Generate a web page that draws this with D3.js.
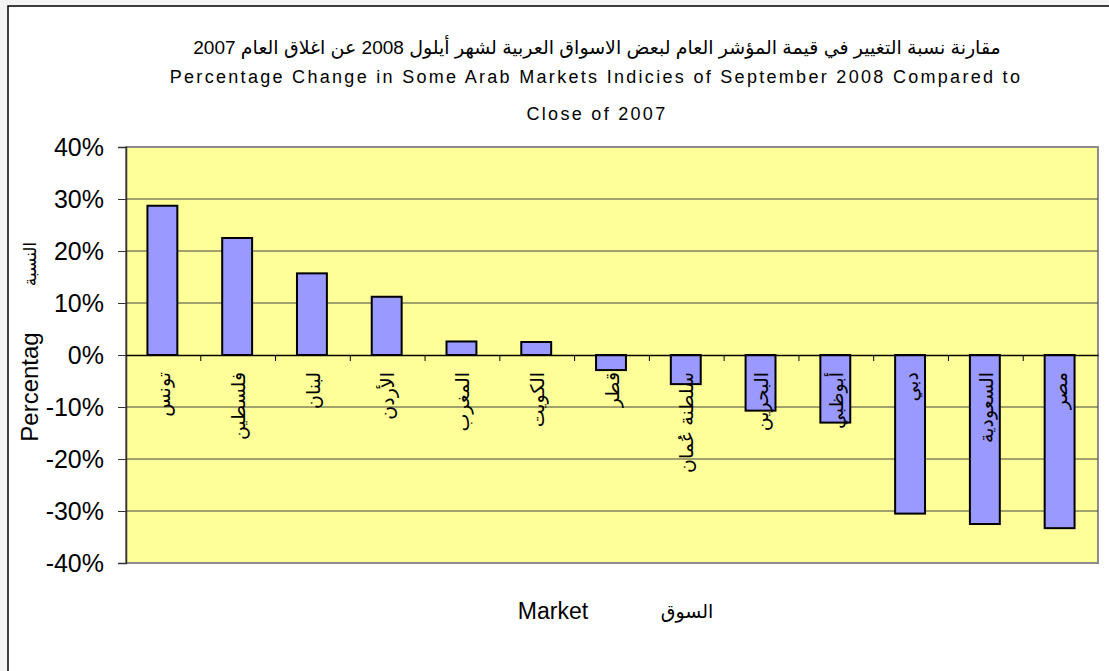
<!DOCTYPE html>
<html>
<head>
<meta charset="utf-8">
<script src="https://cdn.jsdelivr.net/npm/d3@7/dist/d3.min.js"></script>
<style>
  html, body { margin: 0; padding: 0; background: #f4f4f4; }
  svg { display: block; }
  text { font-family: Arial, "Liberation Sans", "DejaVu Sans", sans-serif; fill: #000; }
</style>
</head>
<body>
<div id="chart"></div>
<script>
// Percentage change of Arab market indices, Sept 2008 vs close of 2007
const markets = ['تونس', 'فلسطين', 'لبنان', 'الأردن', 'المغرب', 'الكويت', 'قطر',
    'سلطنة عُمان', 'البحرين', 'أبوظبي', 'دبي', 'السعودية', 'مصر'];
const changes = [0.287, 0.225, 0.157, 0.112, 0.026, 0.025, -0.029,
    -0.056, -0.107, -0.130, -0.305, -0.325, -0.333];
const yTicks = [-0.4, -0.3, -0.2, -0.1, 0, 0.1, 0.2, 0.3, 0.4];
const titleLines = [
    'مقارنة نسبة التغيير في قيمة المؤشر العام لبعض الاسواق العربية لشهر أيلول 2008 عن اغلاق العام 2007',
    'Percentage  Change in Some Arab Markets Indicies of September 2008 Compared to',
    'Close of 2007'
];

const width = 1109, height = 671;
const plot = { left: 126, right: 1098, top: 147, bottom: 563 };

const svg = d3.select('#chart')
    .append('svg')
    .attr('width', width)
    .attr('height', height);

// chart area (white box)
svg.append('rect')
    .attr('x', 8).attr('y', 6)
    .attr('width', width).attr('height', height)
    .attr('fill', '#fff')
    .attr('stroke', '#000')
    .attr('stroke-width', 1.5);

const x = d3.scaleBand()
    .domain(markets)
    .range([plot.left, plot.right])
    .padding(0);

const y = d3.scaleLinear()
    .domain([-0.4, 0.4])
    .range([plot.bottom, plot.top]);

// plot background
svg.append('rect')
    .attr('x', plot.left).attr('y', plot.top)
    .attr('width', plot.right - plot.left)
    .attr('height', plot.bottom - plot.top)
    .attr('fill', '#ffff99')
    .attr('stroke', '#8c8c8c')
    .attr('stroke-width', 2);

// gridlines
svg.append('g')
    .selectAll('line')
    .data(yTicks.filter(d => d > -0.4 && d < 0.4 && d !== 0))
    .join('line')
    .attr('x1', plot.left).attr('x2', plot.right)
    .attr('y1', d => y(d)).attr('y2', d => y(d))
    .attr('stroke', '#444')
    .attr('stroke-width', 1);

// y axis (plain hyphen for negatives, like the original)
const pct = d3.format('.0%');
const yAxis = d3.axisLeft(y)
    .tickValues(yTicks)
    .tickFormat(d => pct(d).replace('\u2212', '-'))
    .tickSize(8)
    .tickPadding(14);

const yg = svg.append('g')
    .attr('transform', `translate(${plot.left},0)`)
    .call(yAxis);
yg.select('.domain').attr('stroke', '#333').attr('stroke-width', 1.5);
yg.selectAll('.tick line').attr('stroke', '#333');
yg.selectAll('.tick text')
    .attr('font-size', 25)
    .attr('font-family', 'Arial, "Liberation Sans", sans-serif')
    .attr('fill', '#000');

// bars
const barW = x.bandwidth() * 0.4;
svg.append('g')
    .selectAll('rect')
    .data(markets.map((m, i) => ({ m, v: changes[i] })))
    .join('rect')
    .attr('x', d => x(d.m) + x.bandwidth() / 2 - barW / 2 - 1)
    .attr('y', d => y(Math.max(0, d.v)))
    .attr('width', barW)
    .attr('height', d => Math.abs(y(d.v) - y(0)))
    .attr('fill', '#9999ff')
    .attr('stroke', '#000')
    .attr('stroke-width', 2);

// zero line with category ticks
const xAxis = d3.axisBottom(x)
    .tickValues([])
    .tickSizeOuter(0);
svg.append('g')
    .attr('transform', `translate(0,${y(0)})`)
    .call(xAxis)
    .select('.domain')
    .attr('stroke', '#000')
    .attr('stroke-width', 1.5);

svg.append('g')
    .selectAll('line')
    .data(markets.slice(1))
    .join('line')
    .attr('x1', d => x(d)).attr('x2', d => x(d))
    .attr('y1', y(0)).attr('y2', y(0) + 6)
    .attr('stroke', '#000');

// category labels, rotated
svg.append('g')
    .selectAll('text')
    .data(markets)
    .join('text')
    .attr('transform', d => `translate(${x(d) + x.bandwidth() / 2},${y(0) + 17}) rotate(-90)`)
    .attr('text-anchor', 'end')
    .attr('dy', '0.35em')
    .attr('font-size', 19)
    .attr('font-family', '"DejaVu Sans", sans-serif')
    .text(d => d);

// title
svg.append('text')
    .attr('x', 597).attr('y', 54)
    .attr('text-anchor', 'middle')
    .attr('font-size', 19)
    .attr('font-family', '"DejaVu Sans", sans-serif')
    .text(titleLines[0]);
svg.append('text')
    .attr('x', 596).attr('y', 83)
    .attr('text-anchor', 'middle')
    .attr('font-size', 18)
    .attr('letter-spacing', 2.3)
    .text(titleLines[1]);
svg.append('text')
    .attr('x', 597).attr('y', 120)
    .attr('text-anchor', 'middle')
    .attr('font-size', 18)
    .attr('letter-spacing', 2.3)
    .text(titleLines[2]);

// axis titles
svg.append('text')
    .attr('transform', 'translate(38,387) rotate(-90)')
    .attr('text-anchor', 'middle')
    .attr('font-size', 24)
    .text('Percentag');
svg.append('text')
    .attr('transform', 'translate(36,264) rotate(-90)')
    .attr('text-anchor', 'middle')
    .attr('font-size', 17)
    .attr('font-family', '"DejaVu Sans", sans-serif')
    .text('النسبة');

svg.append('text')
    .attr('x', 553).attr('y', 619)
    .attr('text-anchor', 'middle')
    .attr('font-size', 23)
    .text('Market');
svg.append('text')
    .attr('x', 687).attr('y', 618)
    .attr('text-anchor', 'middle')
    .attr('font-size', 19)
    .attr('font-family', '"DejaVu Sans", sans-serif')
    .text('السوق');
</script>
</body>
</html>
